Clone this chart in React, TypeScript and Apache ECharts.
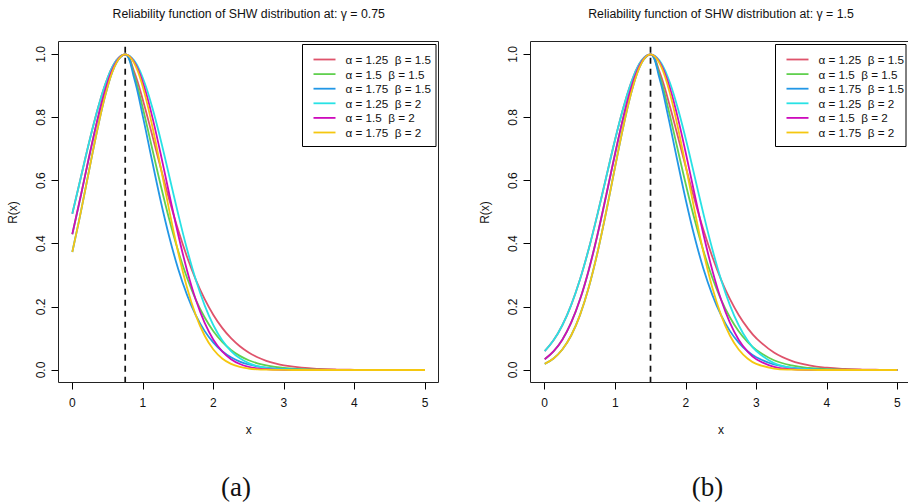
import React, { useEffect, useRef } from 'react';
import * as echarts from 'echarts';

// x grid shared by every curve
const xs = [0, 0.125, 0.25, 0.375, 0.5, 0.625, 0.75, 0.875, 1, 1.125, 1.25, 1.375, 1.5, 1.625, 1.75, 1.875, 2, 2.125, 2.25, 2.375, 2.5, 2.625, 2.75, 2.875, 3, 3.25, 3.5, 3.75, 4, 4.25, 4.5, 4.75, 5];

const gammas = [0.75, 1.5];
const panelTags = ['(a)', '(b)'];
const xTicks = [0, 1, 2, 3, 4, 5];
const yTicks = [0, 0.2, 0.4, 0.6, 0.8, 1.0];

const seriesLabels = [
  'α = 1.25  β = 1.5',
  'α = 1.5  β = 1.5',
  'α = 1.75  β = 1.5',
  'α = 1.25  β = 2',
  'α = 1.5  β = 2',
  'α = 1.75  β = 2',
];

// panel (a): gamma = 0.75
const aA125B15 = [0.4950, 0.6137, 0.7316, 0.8388, 0.9248, 0.9807, 1, 0.9463, 0.8553, 0.7505, 0.6428, 0.5392, 0.4440, 0.3595, 0.2865, 0.2250, 0.1743, 0.1333, 0.1006, 0.0751, 0.0554, 0.0404, 0.0291, 0.0208, 0.0147, 0.0072, 0.0034, 0.0015, 0.0007, 0.0003, 0.0001, 0.00005, 0.00002];
const aA15B15 = [0.4301, 0.5566, 0.6873, 0.8098, 0.9105, 0.9768, 1, 0.9359, 0.8290, 0.7086, 0.5884, 0.4766, 0.3775, 0.2930, 0.2231, 0.1670, 0.1229, 0.0891, 0.0636, 0.0447, 0.0310, 0.0213, 0.0144, 0.0096, 0.0063, 0.0027, 0.0011, 0.0004, 0.00015, 0.00005, 0.00002, 0.00001, 0];
const aA175B15 = [0.3737, 0.5048, 0.6456, 0.7818, 0.8964, 0.9730, 1, 0.9256, 0.8035, 0.6691, 0.5386, 0.4212, 0.3209, 0.2388, 0.1738, 0.1239, 0.0867, 0.0595, 0.0402, 0.0266, 0.0174, 0.0112, 0.0071, 0.0044, 0.0027, 0.0010, 0.0003, 0.0001, 0.00004, 0.00001, 0, 0, 0];
const aA125B2 = [0.4950, 0.6137, 0.7316, 0.8388, 0.9248, 0.9807, 1, 0.9807, 0.9248, 0.8388, 0.7316, 0.6137, 0.4950, 0.3840, 0.2865, 0.2056, 0.1418, 0.0941, 0.0601, 0.0369, 0.0218, 0.0123, 0.0067, 0.0035, 0.0018, 0.0004, 0.0001, 0, 0, 0, 0, 0, 0];
const aA15B2 = [0.4301, 0.5566, 0.6873, 0.8098, 0.9105, 0.9768, 1, 0.9768, 0.9105, 0.8098, 0.6873, 0.5566, 0.4301, 0.3171, 0.2231, 0.1498, 0.0960, 0.0587, 0.0342, 0.0190, 0.0101, 0.0051, 0.0025, 0.0011, 0.0005, 0.0001, 0, 0, 0, 0, 0, 0, 0];
const aA175B2 = [0.3737, 0.5048, 0.6456, 0.7818, 0.8964, 0.9730, 1, 0.9730, 0.8964, 0.7818, 0.6456, 0.5048, 0.3737, 0.2619, 0.1738, 0.1092, 0.0649, 0.0366, 0.0195, 0.0098, 0.0047, 0.0021, 0.0009, 0.0004, 0.0001, 0, 0, 0, 0, 0, 0, 0, 0];

// panel (b): gamma = 1.5
const bA125B15 = [0.0601, 0.0941, 0.1418, 0.2056, 0.2865, 0.3840, 0.4950, 0.6137, 0.7316, 0.8388, 0.9248, 0.9807, 1, 0.9463, 0.8553, 0.7505, 0.6428, 0.5392, 0.4440, 0.3595, 0.2865, 0.2250, 0.1743, 0.1333, 0.1006, 0.0554, 0.0291, 0.0147, 0.0072, 0.0034, 0.0015, 0.0007, 0.0003];
const bA15B15 = [0.0342, 0.0587, 0.0960, 0.1498, 0.2231, 0.3171, 0.4301, 0.5566, 0.6873, 0.8098, 0.9105, 0.9768, 1, 0.9359, 0.8290, 0.7086, 0.5884, 0.4766, 0.3775, 0.2930, 0.2231, 0.1670, 0.1229, 0.0891, 0.0636, 0.0310, 0.0144, 0.0063, 0.0027, 0.0011, 0.0004, 0.00015, 0.00005];
const bA175B15 = [0.0195, 0.0366, 0.0649, 0.1092, 0.1738, 0.2619, 0.3737, 0.5048, 0.6456, 0.7818, 0.8964, 0.9730, 1, 0.9256, 0.8035, 0.6691, 0.5386, 0.4212, 0.3209, 0.2388, 0.1738, 0.1239, 0.0867, 0.0595, 0.0402, 0.0174, 0.0071, 0.0027, 0.0010, 0.0003, 0.0001, 0.00004, 0.00001];
const bA125B2 = [0.0601, 0.0941, 0.1418, 0.2056, 0.2865, 0.3840, 0.4950, 0.6137, 0.7316, 0.8388, 0.9248, 0.9807, 1, 0.9807, 0.9248, 0.8388, 0.7316, 0.6137, 0.4950, 0.3840, 0.2865, 0.2056, 0.1418, 0.0941, 0.0601, 0.0218, 0.0067, 0.0018, 0.0004, 0.0001, 0, 0, 0];
const bA15B2 = [0.0342, 0.0587, 0.0960, 0.1498, 0.2231, 0.3171, 0.4301, 0.5566, 0.6873, 0.8098, 0.9105, 0.9768, 1, 0.9768, 0.9105, 0.8098, 0.6873, 0.5566, 0.4301, 0.3171, 0.2231, 0.1498, 0.0960, 0.0587, 0.0342, 0.0101, 0.0025, 0.0005, 0.0001, 0, 0, 0, 0];
const bA175B2 = [0.0195, 0.0366, 0.0649, 0.1092, 0.1738, 0.2619, 0.3737, 0.5048, 0.6456, 0.7818, 0.8964, 0.9730, 1, 0.9730, 0.8964, 0.7818, 0.6456, 0.5048, 0.3737, 0.2619, 0.1738, 0.1092, 0.0649, 0.0366, 0.0195, 0.0047, 0.0009, 0.0001, 0, 0, 0, 0, 0];

const panelSeries = [
  [aA125B15, aA15B15, aA175B15, aA125B2, aA15B2, aA175B2],
  [bA125B15, bA15B15, bA175B15, bA125B2, bA15B2, bA175B2],
];

const colors = ['#DF536B', '#61D04F', '#2297E6', '#28E2E5', '#CD0BBC', '#F5C710'];

const FONT = '"Liberation Sans", Arial, Helvetica, sans-serif';

const layout = [
  { gridLeft: 72.3, boxLeft: 58.5, legendLeft: 302.5, legendW: 133.5, centerX: 248.7, ylabX: 13, tagX: 236 },
  { gridLeft: 544.7, boxLeft: 530.5, legendLeft: 775.5, legendW: 130.5, centerX: 721, ylabX: 485, tagX: 707.5 },
];
const GRID_TOP = 54.3;
const GRID_H = 315.7;
const GRID_W = 352.7;
const BOX_TOP = 41.5;
const BOX_BOTTOM = 382.5;

function txt(text: string, x: number, y: number, size: number, extra: any = {}, family = FONT) {
  return {
    type: 'text',
    x,
    y,
    rotation: extra.rotation || 0,
    silent: true,
    style: {
      text,
      x: 0,
      y: 0,
      fill: extra.fill || '#111',
      fontSize: size,
      fontFamily: family,
      align: extra.align || 'center',
      textAlign: extra.align || 'center',
      verticalAlign: 'middle',
      textVerticalAlign: 'middle',
    },
  };
}

function buildOption() {
  const grids: any[] = [];
  const xAxes: any[] = [];
  const yAxes: any[] = [];
  const series: any[] = [];
  const graphics: any[] = [];

  layout.forEach((L, p) => {
    grids.push({ left: L.gridLeft, top: GRID_TOP, width: GRID_W, height: GRID_H });
    xAxes.push({
      gridIndex: p,
      type: 'value',
      min: xTicks[0],
      max: xTicks[xTicks.length - 1],
      interval: 1,
      offset: BOX_BOTTOM - (GRID_TOP + GRID_H),
      axisLine: { show: true, onZero: false, lineStyle: { color: '#000', width: 1 } },
      axisTick: { show: true, length: 7, lineStyle: { color: '#000', width: 1 } },
      axisLabel: { color: '#111', fontSize: 12, fontFamily: FONT, margin: 14, formatter: (v: number) => String(v) },
      splitLine: { show: false },
    });
    yAxes.push({
      gridIndex: p,
      type: 'value',
      min: yTicks[0],
      max: yTicks[yTicks.length - 1],
      interval: 0.2,
      offset: L.gridLeft - L.boxLeft,
      axisLine: { show: true, onZero: false, lineStyle: { color: '#000', width: 1 } },
      axisTick: { show: true, length: 7, lineStyle: { color: '#000', width: 1 } },
      axisLabel: { color: '#111', fontSize: 12, fontFamily: FONT, margin: 12, rotate: 90, formatter: (v: number) => v.toFixed(1) },
      splitLine: { show: false },
    });

    panelSeries[p].forEach((arr, k) => {
      series.push({
        type: 'line',
        name: seriesLabels[k],
        xAxisIndex: p,
        yAxisIndex: p,
        data: xs.map((x, i) => [x, arr[i]]),
        showSymbol: false,
        symbol: 'none',
        smooth: 0.4,
        clip: false,
        silent: true,
        lineStyle: { color: colors[k], width: 1.8 },
        z: 3 + k,
      });
    });

    // dashed vertical line at gamma, across the whole plot region
    series.push({
      type: 'line',
      xAxisIndex: p,
      yAxisIndex: p,
      data: [[gammas[p], -0.04], [gammas[p], 1.04]],
      showSymbol: false,
      symbol: 'none',
      clip: false,
      silent: true,
      lineStyle: { color: '#111', width: 1.7, type: [6, 5] },
      z: 10,
    });

    // plot box
    graphics.push({
      type: 'rect',
      silent: true,
      shape: { x: L.boxLeft, y: BOX_TOP, width: 380, height: BOX_BOTTOM - BOX_TOP },
      style: { fill: 'none', stroke: '#222', lineWidth: 1 },
      z: 20,
    });

    // title
    graphics.push(txt('Reliability function of SHW distribution at: γ = ' + gammas[p], L.centerX, 14, 12.3));
    // axis titles
    graphics.push(txt('x', L.centerX, 430, 12));
    graphics.push(txt('R(x)', L.ylabX, 212.5, 12, { rotation: Math.PI / 2 }));
    // panel tag
    graphics.push(txt(panelTags[p], L.tagX, 487, 27, {}, '"Liberation Serif", "Times New Roman", serif'));

    // legend
    const legTop = 44.5;
    const rowH = 14.6;
    graphics.push({
      type: 'rect',
      silent: true,
      shape: { x: L.legendLeft, y: legTop, width: L.legendW, height: 102 },
      style: { fill: 'none', stroke: '#000', lineWidth: 1 },
      z: 20,
    });
    seriesLabels.forEach((lab, k) => {
      const y = legTop + 15 + rowH * k;
      graphics.push({
        type: 'line',
        silent: true,
        shape: { x1: L.legendLeft + 11, y1: y, x2: L.legendLeft + 33, y2: y },
        style: { stroke: colors[k], lineWidth: 1.8 },
        z: 20,
      });
      graphics.push(txt(lab, L.legendLeft + 43, y, 11.7, { align: 'left' }));
    });
  });

  return {
    animation: false,
    backgroundColor: '#fff',
    grid: grids,
    xAxis: xAxes,
    yAxis: yAxes,
    series,
    graphic: { elements: graphics },
  };
}

export default function App() {
  const ref = useRef<HTMLDivElement>(null);
  useEffect(() => {
    const chart = echarts.init(ref.current as HTMLDivElement, null, { renderer: 'svg' });
    chart.setOption(buildOption() as any);
    return () => chart.dispose();
  }, []);
  return (
    <div
      ref={ref}
      style={{ position: 'absolute', left: 0, top: 0, width: 908, height: 503, background: '#fff' }}
    />
  );
}
